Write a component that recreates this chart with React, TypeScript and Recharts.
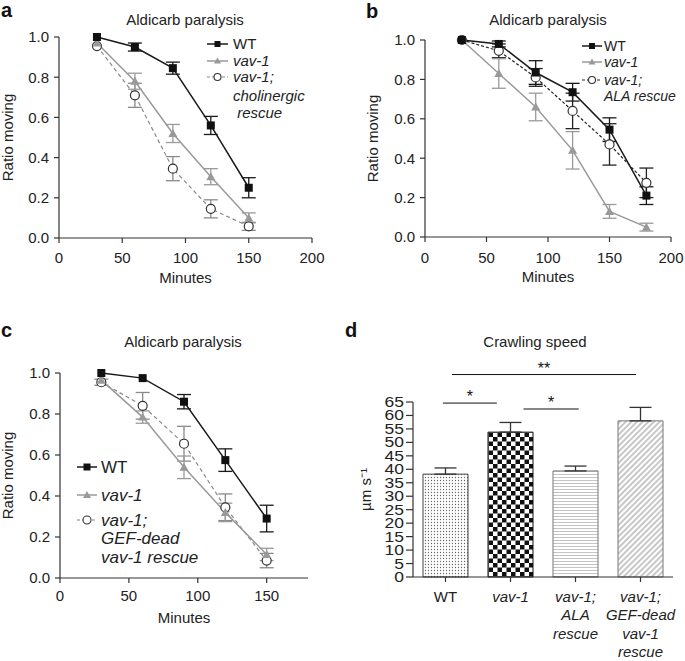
import React from 'react'
import { LineChart, Line, XAxis, YAxis, ErrorBar, BarChart, Bar, Cell, ReferenceLine, ReferenceDot } from 'recharts'

const FONT = '"Liberation Sans", Arial, Helvetica, sans-serif'
const INK = '#222'
const AXIS = '#333'

// panel a: cholinergic rescue
const minutesA = [30, 60, 90, 120, 150]
const wtA = [1.0, 0.95, 0.845, 0.56, 0.25]
const wtErrA = [null, 0.02, 0.03, 0.045, 0.05]
const vavA = [0.97, 0.78, 0.52, 0.305, 0.1]
const vavErrA = [null, 0.04, 0.045, 0.04, 0.025]
const rescA = [0.955, 0.71, 0.345, 0.145, 0.058]
const rescErrA = [null, 0.06, 0.06, 0.045, 0.02]

// panel b: ALA rescue
const minutesB = [30, 60, 90, 120, 150, 180]
const wtB = [1.0, 0.98, 0.835, 0.735, 0.545, 0.21]
const wtErrB = [null, 0.015, 0.06, 0.045, 0.06, 0.045]
const vavB = [1.0, 0.83, 0.66, 0.44, 0.13, 0.05]
const vavErrB = [null, 0.075, 0.07, 0.095, 0.035, 0.02]
const rescB = [1.0, 0.945, 0.81, 0.64, 0.47, 0.275]
const rescErrB = [null, 0.035, 0.045, 0.09, 0.105, 0.075]

// panel c: GEF-dead rescue
const minutesC = [30, 60, 90, 120, 150]
const wtC = [1.0, 0.975, 0.86, 0.575, 0.29]
const wtErrC = [null, null, 0.035, 0.055, 0.065]
const vavC = [0.965, 0.785, 0.54, 0.32, 0.115]
const vavErrC = [null, 0.03, 0.055, 0.045, 0.03]
const rescC = [0.955, 0.84, 0.655, 0.345, 0.085]
const rescErrC = [0.015, 0.065, 0.085, 0.065, 0.035]

const ratioTicks = [0, 0.2, 0.4, 0.6, 0.8, 1.0]
const minuteTicks = [0, 50, 100, 150, 200]
const minuteTicksC = [0, 50, 100, 150]

// panel d: crawling speed
const groups = ['WT', 'vav-1', 'vav-1;\nALA\nrescue', 'vav-1;\nGEF-dead\nvav-1\nrescue']
const speed = [38.2, 53.8, 39.4, 58.0]
const speedErr = [2.3, 3.6, 1.8, 5.0]
const speedTicks = [0, 5, 10, 15, 20, 25, 30, 35, 40, 45, 50, 55, 60, 65]
// significance bars, x in bar-index units
const sigFrom = [-0.04, 1.2, 0.1]
const sigTo = [0.79, 2.05, 2.93]
const sigY = [64.6, 62.4, 75.2]
const sigMark = ['*', '*', '**']

const barStyle = [
  { fill: 'url(#pDots)', stroke: '#444' },
  { fill: 'url(#pCheck)', stroke: '#111' },
  { fill: 'url(#pLines)', stroke: '#777' },
  { fill: 'url(#pDiag)', stroke: '#777' },
]

const Square = (p: any) =>
  p.cx == null ? <g key={p.index} /> : <rect key={p.index} x={p.cx - 4} y={p.cy - 4} width={8} height={8} fill="#111" />
const Tri = (p: any) =>
  p.cx == null ? <g key={p.index} /> : (
    <path key={p.index} d={`M${p.cx},${p.cy - 4.5}L${p.cx + 4.5},${p.cy + 3.5}L${p.cx - 4.5},${p.cy + 3.5}Z`} fill="#999" />
  )
const Ring = (p: any) =>
  p.cx == null ? <g key={p.index} /> : <circle key={p.index} cx={p.cx} cy={p.cy} r={4.5} fill="#fff" stroke="#333" strokeWidth={1.2} />

const YTick = (p: any) => (
  <text
    transform={`translate(${p.x},${p.y}) scale(${p.sx ?? 1},1)`}
    textAnchor="end"
    dy="0.355em"
    fontSize={p.fs ?? 15}
    fill={INK}
  >
    {p.digits ? Number(p.payload.value).toFixed(p.digits) : p.payload.value}
  </text>
)

const GroupTick = (p: any) => {
  const lines = String(p.payload.value).split('\n')
  return (
    <text x={p.x} y={p.y} textAnchor="middle" fontSize={15} fill={INK} fontStyle={p.payload.value === 'WT' ? 'normal' : 'italic'}>
      {lines.map((l, i) => (
        <tspan key={i} x={p.x} dy={i === 0 ? '0.71em' : 18.5}>
          {l}
        </tspan>
      ))}
    </text>
  )
}

const Star = (p: any) => (
  <text x={p.cx} y={p.cy - 1} textAnchor="middle" fontSize={16} fill="#111">
    {p.mark}
  </text>
)

type PanelCfg = {
  left: number
  top: number
  width: number
  height: number
  margin: { top: number; right: number; bottom: number; left: number }
  yWidth: number
  xDomain: number[]
  xTicks: number[]
  tickMarginX: number
  minutes: number[]
  wt: number[]
  wtErr: (number | null)[]
  vav: number[]
  vavErr: (number | null)[]
  resc: number[]
  rescErr: (number | null)[]
  rescColor: string
  rescDash: string
}

function LinePanel({ cfg }: { cfg: PanelCfg }) {
  const data = cfg.minutes.map((m, i) => ({
    m,
    wt: cfg.wt[i],
    wtErr: cfg.wtErr[i],
    vav: cfg.vav[i],
    vavErr: cfg.vavErr[i],
    resc: cfg.resc[i],
    rescErr: cfg.rescErr[i],
  }))
  return (
    <div style={{ position: 'absolute', left: cfg.left, top: cfg.top }}>
      <LineChart width={cfg.width} height={cfg.height} data={data} margin={cfg.margin}>
        <XAxis
          type="number"
          dataKey="m"
          domain={cfg.xDomain}
          allowDataOverflow
          ticks={cfg.xTicks}
          interval={0}
          height={50}
          stroke={AXIS}
          strokeWidth={1.2}
          tickSize={5}
          tickMargin={cfg.tickMarginX}
          tick={{ fontSize: 15, fill: INK }}
          label={{ value: 'Minutes', position: 'insideBottom', offset: 5, fontSize: 15, fill: INK }}
        />
        <YAxis
          type="number"
          domain={[0, 1]}
          ticks={ratioTicks}
          interval={0}
          width={cfg.yWidth}
          stroke={AXIS}
          strokeWidth={1.2}
          tickSize={5}
          tickMargin={5}
          tick={(p: any) => <YTick {...p} digits={1} />}
          label={{ value: 'Ratio moving', angle: -90, position: 'insideLeft', offset: 5, fontSize: 15, fill: INK, style: { textAnchor: 'middle' } }}
        />
        <Line dataKey="resc" stroke={cfg.rescColor} strokeWidth={1.2} strokeDasharray={cfg.rescDash} dot={Ring} isAnimationActive={false}>
          <ErrorBar dataKey="rescErr" direction="y" width={7} stroke={cfg.rescColor} strokeWidth={1.3} />
        </Line>
        <Line dataKey="vav" stroke="#9a9a9a" strokeWidth={1.5} dot={Tri} isAnimationActive={false}>
          <ErrorBar dataKey="vavErr" direction="y" width={7} stroke="#9a9a9a" strokeWidth={1.3} />
        </Line>
        <Line dataKey="wt" stroke="#1a1a1a" strokeWidth={1.5} dot={Square} isAnimationActive={false}>
          <ErrorBar dataKey="wtErr" direction="y" width={7} stroke="#1a1a1a" strokeWidth={1.3} />
        </Line>
      </LineChart>
    </div>
  )
}

const panelA: PanelCfg = {
  left: 0, top: 0, width: 340, height: 300,
  margin: { top: 37, right: 28, bottom: 12, left: 3 },
  yWidth: 56, xDomain: [0, 200], xTicks: minuteTicks, tickMarginX: 9,
  minutes: minutesA, wt: wtA, wtErr: wtErrA, vav: vavA, vavErr: vavErrA, resc: rescA, rescErr: rescErrA,
  rescColor: '#8a8a8a', rescDash: '4 3',
}
const panelB: PanelCfg = {
  left: 340, top: 0, width: 345, height: 300,
  margin: { top: 40, right: 14, bottom: 13, left: 28 },
  yWidth: 57, xDomain: [0, 200], xTicks: minuteTicks, tickMarginX: 10,
  minutes: minutesB, wt: wtB, wtErr: wtErrB, vav: vavB, vavErr: vavErrB, resc: rescB, rescErr: rescErrB,
  rescColor: '#222', rescDash: '3 2',
}
const panelC: PanelCfg = {
  left: 0, top: 320, width: 340, height: 341,
  margin: { top: 53, right: 32, bottom: 33, left: 3 },
  yWidth: 57, xDomain: [0, 180], xTicks: minuteTicksC, tickMarginX: 7,
  minutes: minutesC, wt: wtC, wtErr: wtErrC, vav: vavC, vavErr: vavErrC, resc: rescC, rescErr: rescErrC,
  rescColor: '#8a8a8a', rescDash: '4 3',
}

type LegendRow = { kind: 'wt' | 'vav' | 'resc' | 'none'; text: string; italic: boolean }
const legendA: LegendRow[] = [
  { kind: 'wt', text: 'WT', italic: false },
  { kind: 'vav', text: 'vav-1', italic: true },
  { kind: 'resc', text: 'vav-1;', italic: true },
  { kind: 'none', text: 'cholinergic', italic: true },
  { kind: 'none', text: '\u00a0rescue', italic: true },
]
const legendB: LegendRow[] = [
  { kind: 'wt', text: 'WT', italic: false },
  { kind: 'vav', text: 'vav-1', italic: true },
  { kind: 'resc', text: 'vav-1;', italic: true },
  { kind: 'none', text: 'ALA rescue', italic: true },
]
const legendC: LegendRow[] = [
  { kind: 'wt', text: 'WT', italic: false },
  { kind: 'vav', text: 'vav-1', italic: true },
  { kind: 'resc', text: 'vav-1;', italic: true },
  { kind: 'none', text: 'GEF-dead', italic: true },
  { kind: 'none', text: 'vav-1 rescue', italic: true },
]

function LegendIcon({ kind, x, y, w, dash, rescColor, s }: any) {
  if (kind === 'none') return null
  const cx = x + w / 2
  if (kind === 'wt')
    return (
      <g>
        <line x1={x} x2={x + w} y1={y} y2={y} stroke="#1a1a1a" strokeWidth={1.5} />
        <rect x={cx - s} y={y - s} width={2 * s} height={2 * s} fill="#111" />
      </g>
    )
  if (kind === 'vav')
    return (
      <g>
        <line x1={x} x2={x + w} y1={y} y2={y} stroke="#9a9a9a" strokeWidth={1.5} />
        <path d={`M${cx},${y - s - 0.5}L${cx + s + 0.5},${y + s - 0.5}L${cx - s - 0.5},${y + s - 0.5}Z`} fill="#999" />
      </g>
    )
  return (
    <g>
      <line x1={x} x2={x + w} y1={y} y2={y} stroke={rescColor} strokeWidth={1.2} strokeDasharray={dash} />
      <circle cx={cx} cy={y} r={s + 0.5} fill="#fff" stroke="#333" strokeWidth={1.1} />
    </g>
  )
}

function LegendBlock({ rows, ys, iconX, iconW, textX, fs, dash, rescColor, s }: any) {
  return (
    <g>
      {rows.map((r: LegendRow, i: number) => (
        <g key={i}>
          <LegendIcon kind={r.kind} x={iconX} y={ys[i]} w={iconW} dash={dash} rescColor={rescColor} s={s} />
          <text x={textX} y={ys[i]} dy="0.355em" fontSize={fs} fill={INK} fontStyle={r.italic ? 'italic' : 'normal'}>
            {r.text}
          </text>
        </g>
      ))}
    </g>
  )
}

function BarPanel() {
  const data = groups.map((g, i) => ({ g, i, v: speed[i], e: [0, speedErr[i]] }))
  return (
    <div style={{ position: 'absolute', left: 340, top: 320 }}>
      <BarChart width={345} height={341} data={data} margin={{ top: 82, right: 12, bottom: 4, left: 20 }}>
        <XAxis
          dataKey="g"
          height={80}
          stroke={AXIS}
          strokeWidth={1.2}
          tickSize={5}
          tickMargin={9}
          interval={0}
          tick={(p: any) => <GroupTick {...p} />}
        />
        <XAxis
          xAxisId="pos"
          dataKey="i"
          type="number"
          scale="linear"
          domain={[-0.5, 3.5]}
          allowDataOverflow
          padding={{ left: 0, right: 0 }}
          hide
        />
        <YAxis
          domain={[0, 65]}
          ticks={speedTicks}
          interval={0}
          width={53}
          stroke={AXIS}
          strokeWidth={1.2}
          tickSize={7}
          tickMargin={2}
          tick={(p: any) => <YTick {...p} sx={1.25} fs={14} />}
          label={{ value: 'µm s\u207B\u00B9', angle: -90, position: 'insideLeft', offset: 6, fontSize: 15, fill: INK, style: { textAnchor: 'middle' } }}
        />
        <Bar dataKey="v" barSize={45} strokeWidth={1} isAnimationActive={false}>
          {data.map((d, i) => (
            <Cell key={d.g} fill={barStyle[i].fill} stroke={barStyle[i].stroke} />
          ))}
          <ErrorBar dataKey="e" direction="y" width={11} stroke="#333" strokeWidth={1.3} />
        </Bar>
        {sigMark.map((m, i) => (
          <ReferenceLine
            key={`l${i}`}
            xAxisId="pos"
            ifOverflow="visible"
            segment={[
              { x: sigFrom[i], y: sigY[i] },
              { x: sigTo[i], y: sigY[i] },
            ]}
            stroke="#111"
            strokeWidth={1}
          />
        ))}
        {sigMark.map((m, i) => (
          <ReferenceDot
            key={`d${i}`}
            xAxisId="pos"
            ifOverflow="visible"
            x={(sigFrom[i] + sigTo[i]) / 2}
            y={sigY[i]}
            shape={(p: any) => <Star {...p} mark={m} />}
          />
        ))}
      </BarChart>
    </div>
  )
}

export default function App() {
  return (
    <div style={{ position: 'absolute', left: 0, top: 0, width: 685, height: 661, background: '#fff', fontFamily: FONT, overflow: 'hidden' }}>
      <svg width={0} height={0} style={{ position: 'absolute' }}>
        <defs>
          <pattern id="pDots" width="3" height="3" patternUnits="userSpaceOnUse">
            <rect width="3" height="3" fill="#fff" />
            <circle cx="1.5" cy="1.5" r="0.65" fill="#6a6a6a" />
          </pattern>
          <pattern id="pCheck" width="9" height="9" patternUnits="userSpaceOnUse">
            <rect width="9" height="9" fill="#fff" />
            <rect width="4.5" height="4.5" fill="#111" />
            <rect x="4.5" y="4.5" width="4.5" height="4.5" fill="#111" />
          </pattern>
          <pattern id="pLines" width="4" height="3" patternUnits="userSpaceOnUse">
            <rect width="4" height="3" fill="#fff" />
            <line x1="0" x2="4" y1="1.5" y2="1.5" stroke="#b5b5b5" strokeWidth="0.8" />
          </pattern>
          <pattern id="pDiag" width="4" height="4" patternUnits="userSpaceOnUse" patternTransform="rotate(45)">
            <rect width="4" height="4" fill="#fff" />
            <line x1="2" x2="2" y1="0" y2="4" stroke="#9a9a9a" strokeWidth="1.1" />
          </pattern>
        </defs>
      </svg>
      <LinePanel cfg={panelA} />
      <LinePanel cfg={panelB} />
      <LinePanel cfg={panelC} />
      <BarPanel />
      <svg width={685} height={661} style={{ position: 'absolute', left: 0, top: 0, pointerEvents: 'none' }}>
        <g fontWeight="bold" fontSize={20} fill="#111">
          <text x={1} y={17}>a</text>
          <text x={366} y={18}>b</text>
          <text x={1} y={337}>c</text>
          <text x={345} y={337}>d</text>
        </g>
        <g fontSize={15} fill={INK} textAnchor="middle">
          <text x={185} y={25}>Aldicarb paralysis</text>
          <text x={548} y={25}>Aldicarb paralysis</text>
          <text x={183} y={347}>Aldicarb paralysis</text>
          <text x={535} y={347}>Crawling speed</text>
        </g>
        <LegendBlock rows={legendA} ys={[44, 61, 77, 96, 113]} iconX={207} iconW={21} textX={233} fs={15} dash="3 2" rescColor="#8a8a8a" s={3} />
        <LegendBlock rows={legendB} ys={[46, 62, 80, 96]} iconX={582} iconW={20} textX={604} fs={14} dash="3 2" rescColor="#222" s={3} />
        <LegendBlock rows={legendC} ys={[467, 495, 520, 538, 557]} iconX={77} iconW={20} textX={101} fs={17} dash="3 2" rescColor="#8a8a8a" s={3.5} />
      </svg>
    </div>
  )
}
